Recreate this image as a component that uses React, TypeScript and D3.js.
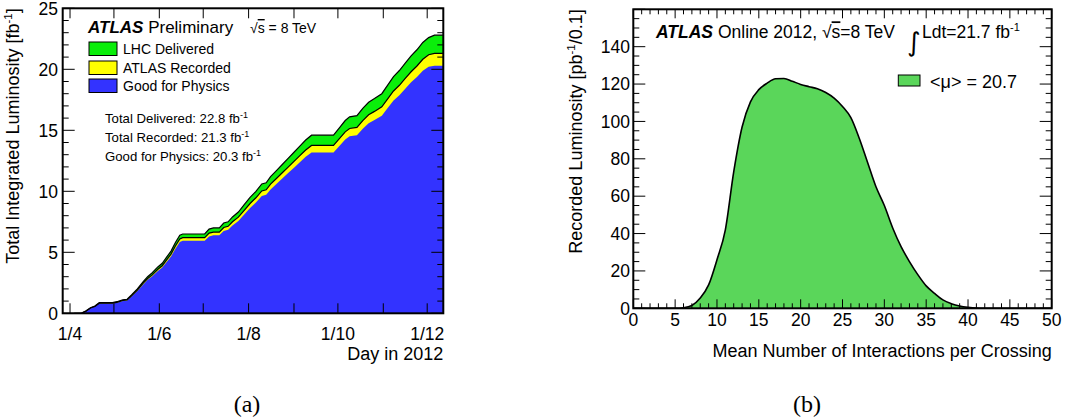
import React from "react";
import * as d3 from "d3";

// ---------- Data: left panel (cumulative luminosity, fb^-1) ----------
const dayLabels: string[] = [
  "2012-04-04","2012-04-09","2012-04-12","2012-04-15","2012-04-18","2012-04-21","2012-04-30",
  "2012-05-03","2012-05-07","2012-05-10","2012-05-13","2012-05-17","2012-05-21","2012-05-24",
  "2012-05-27","2012-05-31","2012-06-03","2012-06-06","2012-06-09","2012-06-12","2012-06-15",
  "2012-06-17","2012-07-02","2012-07-05","2012-07-08","2012-07-12","2012-07-15","2012-07-18",
  "2012-07-21","2012-07-25","2012-07-29","2012-08-02","2012-08-06","2012-08-10","2012-08-13",
  "2012-08-16","2012-08-20","2012-08-24","2012-08-28","2012-09-01","2012-09-05","2012-09-09",
  "2012-09-13","2012-09-28","2012-10-02","2012-10-06","2012-10-09","2012-10-14","2012-10-18",
  "2012-10-22","2012-10-26","2012-10-31","2012-11-04","2012-11-08","2012-11-12","2012-11-16",
  "2012-11-20","2012-11-24","2012-11-28","2012-12-02","2012-12-06","2012-12-12",
];
const lhcDelivered: number[] = [
  0, 0.02, 0.2, 0.45, 0.6, 0.87, 0.88,
  0.95, 1.1, 1.15, 1.5, 2.0, 2.6, 3.0,
  3.3, 3.8, 4.1, 4.6, 5.1, 5.8, 6.4,
  6.5, 6.5, 6.9, 7.0, 7.0, 7.4, 7.5,
  7.9, 8.3, 8.9, 9.5, 10.0, 10.6, 10.7,
  11.2, 11.7, 12.2, 12.7, 13.2, 13.7, 14.2,
  14.6, 14.6, 15.2, 15.8, 16.1, 16.2, 16.8,
  17.3, 17.6, 18.0, 18.7, 19.4, 19.9, 20.5,
  21.1, 21.6, 22.2, 22.6, 22.8, 22.8,
];
const atlasRecorded: number[] = [
  0, 0.02, 0.19, 0.43, 0.57, 0.83, 0.84,
  0.9, 1.05, 1.1, 1.43, 1.9, 2.47, 2.85,
  3.13, 3.61, 3.9, 4.37, 4.85, 5.52, 6.1,
  6.2, 6.2, 6.57, 6.66, 6.66, 7.03, 7.13,
  7.5, 7.88, 8.44, 9.0, 9.47, 10.03, 10.12,
  10.59, 11.05, 11.52, 11.98, 12.45, 12.92, 13.38,
  13.76, 13.76, 14.31, 14.87, 15.15, 15.24, 15.8,
  16.27, 16.55, 16.92, 17.57, 18.22, 18.69, 19.25,
  19.8, 20.27, 20.82, 21.19, 21.3, 21.3,
];
const goodForPhysics: number[] = [
  0, 0.02, 0.18, 0.41, 0.55, 0.8, 0.81,
  0.87, 1.0, 1.05, 1.37, 1.83, 2.37, 2.74,
  3.01, 3.47, 3.75, 4.2, 4.66, 5.3, 5.85,
  5.95, 5.95, 6.3, 6.39, 6.39, 6.75, 6.84,
  7.2, 7.56, 8.1, 8.64, 9.08, 9.62, 9.71,
  10.15, 10.6, 11.05, 11.49, 11.94, 12.38, 12.83,
  13.18, 13.18, 13.71, 14.25, 14.51, 14.6, 15.13,
  15.58, 15.85, 16.2, 16.82, 17.44, 17.88, 18.4,
  18.93, 19.36, 19.88, 20.21, 20.3, 20.3,
];
const legendLabels: string[] = ["LHC Delivered", "ATLAS Recorded", "Good for Physics"];
const totalsText: string[] = ["Total Delivered: 22.8 fb", "Total Recorded: 21.3 fb", "Good for Physics: 20.3 fb"];
const yTicksLeft: number[] = [0, 5, 10, 15, 20, 25];

// ---------- Data: right panel (pile-up distribution, pb^-1 / 0.1) ----------
const muValues: number[] = [
  0, 5, 6, 7, 8, 9, 10, 11, 12, 13, 14, 15, 16, 17, 18, 19, 20, 21, 22, 23, 24, 25,
  26, 27, 28, 29, 30, 31, 32, 33, 34, 35, 36, 37, 38, 39, 40, 41, 42, 50,
];
const recordedLumi: number[] = [
  0, 0, 0.3, 1.5, 5.5, 12.5, 26, 42, 73, 97, 110.5, 117, 120.5, 122.8, 123, 121.5, 119.8, 118.6, 117.5, 115.5, 112.5, 108,
  102, 91, 78, 65, 55, 43, 33, 25, 18, 12, 8, 4.5, 2.5, 1.2, 0.5, 0.1, 0, 0,
];
const xTicksRight: number[] = [0, 5, 10, 15, 20, 25, 30, 35, 40, 45, 50];
const yTicksRight: number[] = [0, 20, 40, 60, 80, 100, 120, 140];

const FONT = "'Liberation Sans', Arial, Helvetica, sans-serif";
const COL_GREEN = "#0aee0a";
const COL_YELLOW = "#ffff00";
const COL_BLUE = "#3333ff";
const COL_MU = "#5ad65a";

export default function App() {
  // ----- left scales -----
  const parse = d3.utcParse("%Y-%m-%d");
  const dates = dayLabels.map((s) => parse(s) as Date);
  const xL = d3
    .scaleUtc()
    .domain([new Date(Date.UTC(2012, 2, 27)), new Date(Date.UTC(2012, 11, 12))])
    .range([62.7, 443.3]);
  const yL = d3.scaleLinear().domain([0, 25]).range([313.3, 8.3]);
  const idx = d3.range(dates.length);
  const areaL = (vals: number[]) =>
    d3
      .area<number>()
      .x((i) => xL(dates[i]))
      .y0(yL(0))
      .y1((i) => yL(vals[i]))(idx) as string;
  const lineL = (vals: number[]) =>
    d3
      .line<number>()
      .x((i) => xL(dates[i]))
      .y((i) => yL(vals[i]))(idx) as string;
  const months = d3.utcMonth.range(new Date(Date.UTC(2012, 3, 1)), new Date(Date.UTC(2012, 11, 2)));
  const [lx0, lx1] = xL.range();
  const [ly0, ly1] = yL.range();

  // ----- right scales -----
  const xR = d3.scaleLinear().domain([0, 50]).range([633.3, 1051.7]);
  const yR = d3.scaleLinear().domain([0, 160]).range([308.3, 9.3]);
  const ridx = d3.range(muValues.length);
  const areaR = d3
    .area<number>()
    .x((i) => xR(muValues[i]))
    .y0(yR(0))
    .y1((i) => yR(recordedLumi[i]))
    .curve(d3.curveMonotoneX)(ridx) as string;
  const lineR = d3
    .line<number>()
    .x((i) => xR(muValues[i]))
    .y((i) => yR(recordedLumi[i]))
    .curve(d3.curveMonotoneX)(ridx) as string;
  const [rx0, rx1] = xR.range();
  const [ry0, ry1] = yR.range();

  const legendCols = [COL_GREEN, COL_YELLOW, COL_BLUE];

  return (
    <svg
      width={1068}
      height={419}
      style={{ position: "absolute", left: 0, top: 0, background: "#fff" }}
      fontFamily={FONT}
    >
      <rect x={0} y={0} width={1068} height={419} fill="#fff" />
      {/* ================= LEFT PANEL ================= */}
      <g>
        <path d={areaL(lhcDelivered)} fill={COL_GREEN} />
        <path d={areaL(atlasRecorded)} fill={COL_YELLOW} />
        <path d={areaL(goodForPhysics)} fill={COL_BLUE} />
        <path d={lineL(lhcDelivered)} fill="none" stroke="#000" strokeWidth={1.2} />
        <path d={lineL(atlasRecorded)} fill="none" stroke="#000" strokeWidth={1.2} />

        {/* y ticks */}
        {d3.range(0, 26, 1).map((v) => {
          const major = v % 5 === 0;
          const len = major ? 12 : 6;
          return (
            <g key={"ly" + v}>
              <line x1={lx0} x2={lx0 + len} y1={yL(v)} y2={yL(v)} stroke="#000" strokeWidth={1} />
              <line x1={lx1} x2={lx1 - len} y1={yL(v)} y2={yL(v)} stroke="#000" strokeWidth={1} />
            </g>
          );
        })}
        {months.map((m, i) => (
          <g key={"lx" + i}>
            <line x1={xL(m)} x2={xL(m)} y1={ly0} y2={ly0 - 10} stroke="#000" strokeWidth={1} />
            <line x1={xL(m)} x2={xL(m)} y1={ly1} y2={ly1 + 10} stroke="#000" strokeWidth={1} />
          </g>
        ))}
        <rect x={lx0} y={ly1} width={lx1 - lx0} height={ly0 - ly1} fill="none" stroke="#000" strokeWidth={2} />

        {yTicksLeft.map((v) => (
          <text key={"lyl" + v} x={58} y={yL(v)} dy="0.36em" textAnchor="end" fontSize={17.5}>
            {v}
          </text>
        ))}
        {months
          .filter((m) => m.getUTCMonth() % 2 === 1)
          .map((m, i) => (
            <text key={"lxl" + i} x={xL(m)} y={340} textAnchor="middle" fontSize={17.5}>
              {`1/${m.getUTCMonth() + 1}`}
            </text>
          ))}
        <text x={lx1} y={360} textAnchor="end" fontSize={18}>
          Day in 2012
        </text>
        <text transform={`translate(19,${ly1}) rotate(-90)`} textAnchor="end" fontSize={18}>
          Total Integrated Luminosity [fb
          <tspan fontSize={11.5} dy={-7}>-1</tspan>
          <tspan dy={7}>]</tspan>
        </text>

        {/* header & legend */}
        <text x={88} y={33} fontSize={17}>
          <tspan fontWeight="bold" fontStyle="italic">ATLAS</tspan>
          <tspan> Preliminary</tspan>
        </text>
        <text x={250} y={33} fontSize={14}>
          √<tspan style={{ textDecoration: "overline" }}>s</tspan> = 8 TeV
        </text>
        {legendLabels.map((lab, i) => {
          const top = [42, 61, 79][i];
          return (
            <g key={"leg" + i}>
              <rect x={89} y={top} width={28} height={13.5} fill={legendCols[i]} stroke="#000" strokeWidth={1} />
              <text x={123} y={top + 11.5} fontSize={14}>
                {lab}
              </text>
            </g>
          );
        })}
        {totalsText.map((t, i) => (
          <text key={"tot" + i} x={105} y={[123, 141.7, 161.3][i]} fontSize={13.2}>
            {t}
            <tspan fontSize={9} dy={-5}>-1</tspan>
          </text>
        ))}
      </g>

      {/* ================= RIGHT PANEL ================= */}
      <g>
        <path d={areaR} fill={COL_MU} />
        <path d={lineR} fill="none" stroke="#000" strokeWidth={1.6} />

        {d3.range(0, 51, 1).map((v) => {
          const major = v % 5 === 0;
          const len = major ? 9 : 5;
          return (
            <g key={"rx" + v}>
              <line x1={xR(v)} x2={xR(v)} y1={ry0} y2={ry0 - len} stroke="#000" strokeWidth={1} />
              <line x1={xR(v)} x2={xR(v)} y1={ry1} y2={ry1 + len} stroke="#000" strokeWidth={1} />
            </g>
          );
        })}
        {d3.range(0, 161, 5).map((v) => {
          const major = v % 20 === 0;
          const len = major ? 12 : 6;
          return (
            <g key={"ry" + v}>
              <line x1={rx0} x2={rx0 + len} y1={yR(v)} y2={yR(v)} stroke="#000" strokeWidth={1} />
              <line x1={rx1} x2={rx1 - len} y1={yR(v)} y2={yR(v)} stroke="#000" strokeWidth={1} />
            </g>
          );
        })}
        <rect x={rx0} y={ry1} width={rx1 - rx0} height={ry0 - ry1} fill="none" stroke="#000" strokeWidth={2} />

        {yTicksRight.map((v) => (
          <text key={"ryl" + v} x={630} y={yR(v)} dy="0.36em" textAnchor="end" fontSize={17.5}>
            {v}
          </text>
        ))}
        {xTicksRight.map((v) => (
          <text key={"rxl" + v} x={xR(v)} y={325.7} textAnchor="middle" fontSize={17.5}>
            {v}
          </text>
        ))}
        <text x={rx1} y={356.7} textAnchor="end" fontSize={18}>
          Mean Number of Interactions per Crossing
        </text>
        <text transform={`translate(581.5,${ry1}) rotate(-90)`} textAnchor="end" fontSize={18}>
          Recorded Luminosity [pb
          <tspan fontSize={11.5} dy={-7}>-1</tspan>
          <tspan dy={7}>/0.1]</tspan>
        </text>

        <text x={656} y={38.3} fontSize={17.5}>
          <tspan fontWeight="bold" fontStyle="italic">ATLAS</tspan>
          <tspan> Online 2012, √</tspan>
          <tspan style={{ textDecoration: "overline" }}>s</tspan>
          <tspan>=8 TeV</tspan>
        </text>
        <text x={907} y={51} fontSize={26} fontFamily="'DejaVu Sans', sans-serif">
          ∫
        </text>
        <text x={922} y={38.3} fontSize={17.5}>
          Ldt=21.7 fb
          <tspan fontSize={11} dy={-7}>-1</tspan>
        </text>
        <rect x={898.3} y={75} width={21.7} height={11} fill={COL_MU} stroke="#000" strokeWidth={1} />
        <text x={930} y={88.3} fontSize={18}>
          &lt;μ&gt; = 20.7
        </text>
      </g>

      {/* captions */}
      <text x={247} y={412} textAnchor="middle" fontSize={24} fontFamily="'Liberation Serif', 'DejaVu Serif', serif">
        (a)
      </text>
      <text x={807} y={412} textAnchor="middle" fontSize={24} fontFamily="'Liberation Serif', 'DejaVu Serif', serif">
        (b)
      </text>
    </svg>
  );
}
